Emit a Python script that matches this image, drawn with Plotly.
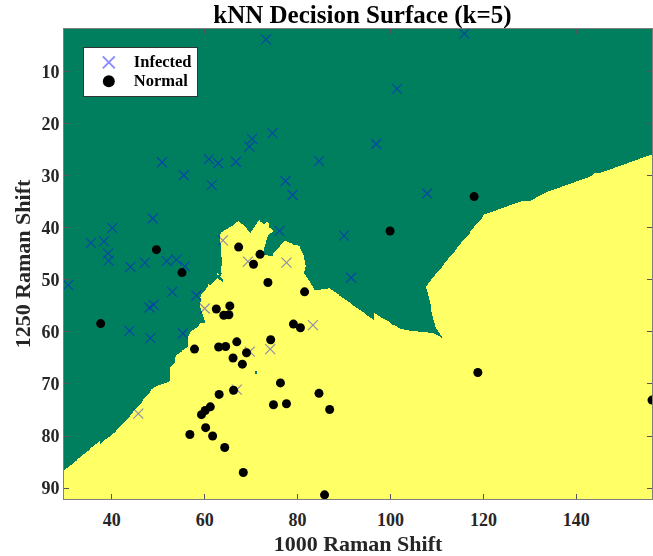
import numpy as np
import plotly.graph_objects as go

# ---- data ----
inf_x = [73.2, 74.6, 70.2, 69.6, 60.9, 62.9, 66.7, 50.8, 55.5, 61.5, 77.4, 78.9, 84.6,
         48.8, 40.1, 35.5, 38.3, 39.2, 39.3, 44.0, 47.1, 51.8, 53.9, 55.7, 76.1, 63.9,
         69.3, 77.6, 115.9, 101.4, 96.9, 107.9, 90.0, 91.5, 30.6, 53.0, 58.2, 48.1,
         49.0, 43.8, 48.3, 55.3, 60.0, 45.7, 69.7, 74.1, 83.3, 66.9]
inf_y = [3.8, 21.8, 22.9, 24.4, 26.8, 27.6, 27.3, 27.4, 29.9, 31.8, 31.0, 33.7, 27.2,
         38.2, 40.0, 42.9, 42.6, 44.9, 46.3, 47.5, 46.7, 46.4, 46.1, 47.4, 40.6, 42.4,
         46.5, 46.7, 2.7, 13.3, 23.9, 33.4, 41.5, 49.6, 51.0, 52.3, 53.0, 55.3,
         54.8, 59.8, 61.2, 60.3, 55.5, 75.7, 63.8, 63.3, 58.7, 71.1]

nor_x = [49.6, 67.3, 71.9, 70.5, 55.1, 118.0, 99.9, 37.6, 73.6, 81.5, 62.5, 65.4, 64.1,
         65.2, 79.1, 80.6, 74.2, 57.8, 63.0, 64.5, 66.9, 69.0, 66.1, 68.1, 76.3, 66.2,
         63.1, 84.6, 74.8, 77.6, 61.2, 60.1, 59.3, 86.9, 56.8, 60.2, 61.7, 64.3, 68.3,
         85.8, 118.8, 156.3]
nor_y = [44.2, 43.7, 45.1, 47.0, 48.6, 34.0, 40.6, 58.4, 50.5, 52.3, 55.6, 55.0, 56.8,
         56.7, 58.5, 59.2, 61.5, 63.3, 62.9, 62.8, 61.9, 64.0, 65.0, 66.2, 69.8, 71.2,
         72.0, 71.8, 74.0, 73.8, 74.4, 75.1, 75.9, 74.9, 79.7, 78.4, 80.0, 82.2, 87.0,
         91.3, 67.8, 73.1]

x_ticks = [40, 60, 80, 100, 120, 140]
y_ticks = [10, 20, 30, 40, 50, 60, 70, 80, 90]
K = 5

X_RANGE = [29.7, 156.3]
Y_RANGE = [1.8, 92.1]

# ---- kNN decision surface computed from the data ----
px = np.array(inf_x + nor_x)
py = np.array(inf_y + nor_y)
lab = np.array([0] * len(inf_x) + [1] * len(nor_x))  # 0 infected, 1 normal

gx = np.linspace(X_RANGE[0], X_RANGE[1], 634)
gy = np.linspace(Y_RANGE[0], Y_RANGE[1], 471)
z = np.zeros((len(gy), len(gx)), dtype=int)
for i, yv in enumerate(gy):
    d = (gx[:, None] - px[None, :]) ** 2 + (yv - py[None, :]) ** 2
    idx = np.argpartition(d, K, axis=1)[:, :K]
    votes = lab[idx].sum(axis=1)
    z[i] = (votes * 2 > K).astype(int)

GREEN = "#007F5F"
YELLOW = "#FFFF66"
FONT = "Liberation Serif"

fig = go.Figure()
fig.add_trace(go.Heatmap(
    x=gx, y=gy, z=z, zmin=0, zmax=1, zsmooth=False,
    colorscale=[[0, GREEN], [0.5, GREEN], [0.5, YELLOW], [1, YELLOW]],
    showscale=False, hoverinfo="skip", showlegend=False))

fig.add_trace(go.Scatter(
    x=inf_x, y=inf_y, mode="markers",
    name="<span style='font-size:16.5px'>Infected</span>",
    marker=dict(symbol="x-thin", size=10, color="rgb(0,0,255)",
                line=dict(width=1.2, color="rgb(0,0,255)")),
    opacity=0.45))
fig.add_trace(go.Scatter(
    x=nor_x, y=nor_y, mode="markers",
    name="<span style='font-size:16.5px'>Normal</span>",
    marker=dict(symbol="circle", size=9, color="black")))

axis_common = dict(
    ticks="inside", ticklen=5, tickcolor="#555555", mirror="allticks",
    showline=True, linecolor="#7f7f7f", linewidth=1, showgrid=False,
    zeroline=False, automargin=False,
    tickfont=dict(family=FONT, size=18, color="#262626", weight="bold"),
)

fig.update_layout(
    width=653, height=556,
    margin=dict(l=64, r=1, t=29, b=57, autoexpand=False),
    paper_bgcolor="white", plot_bgcolor="white",
    title=dict(text="kNN Decision Surface (k=5)", x=0.555, xanchor="center",
               y=0.975, yanchor="middle", automargin=False,
               font=dict(family=FONT, size=25, color="black", weight="bold")),
    xaxis=dict(range=X_RANGE, tickvals=x_ticks, ticklabelstandoff=4,
               title=dict(text="1000 Raman Shift", standoff=9,
                          font=dict(family=FONT, size=22, color="#262626", weight="bold")),
               **axis_common),
    yaxis=dict(range=[Y_RANGE[1], Y_RANGE[0]], tickvals=y_ticks,
               title=dict(text="1250 Raman Shift", standoff=4,
                          font=dict(family=FONT, size=22, color="#262626", weight="bold")),
               **axis_common),
    legend=dict(x=0.032, y=0.962, xanchor="left", yanchor="top",
                bgcolor="white", bordercolor="#333333", borderwidth=1,
                font=dict(family=FONT, size=12, color="black", weight="bold"),
                tracegroupgap=0, itemsizing="constant", itemwidth=40),
)

fig.write_html(
    "out.html",
    config={"displayModeBar": False},
    post_script="document.body.style.margin='0';document.body.style.overflow='hidden';",
)
